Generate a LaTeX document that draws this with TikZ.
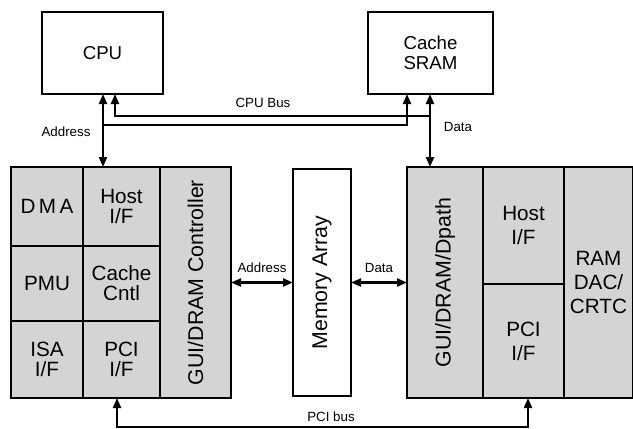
\documentclass[tikz,border=0pt]{standalone}
\usepackage{fontspec}
\setmainfont{Liberation Sans}
\usepackage{xcolor}
\usepackage{tikz}
\usetikzlibrary{arrows.meta}
\definecolor{cellgray}{HTML}{D4D4D4}
\definecolor{ink}{HTML}{000000}
\tikzset{
  box/.style={draw=ink, line width=0.8pt, fill=white, inner sep=0pt, outer sep=0pt,
    align=center, font=\fontsize{14}{15}\selectfont},
  cell/.style 2 args={box, fill=cellgray, minimum width=#1*0.75pt, minimum height=#2*0.75pt,
    font=\fontsize{15.5}{15}\selectfont},
  plain/.style 2 args={box, minimum width=#1*0.75pt, minimum height=#2*0.75pt},
  wide/.style={font=\fontsize{15.5}{18}\selectfont},
  side/.style={font=\fontsize{16}{17}\selectfont},
  bus/.style={draw=ink, line width=1.6pt, line cap=butt, line join=miter},
  tip/.style={-{Triangle[length=7.5pt,width=6pt]}},
  tips/.style={{Triangle[length=7.5pt,width=6pt]}-{Triangle[length=7.5pt,width=6pt]}},
  lab/.style={text=ink, inner sep=1pt, font=\fontsize{10}{11}\selectfont},
}

\begin{document}
\begin{tikzpicture}[x=0.75pt, y=-0.75pt]
  \useasboundingbox (0,0) rectangle (633,429);
  % top chips
  \node[plain={121}{82}] (cpu)   at (102.5,53) {CPU};
  \node[plain={125}{82}] (sram)  at (430.5,53) {Cache\\SRAM};
  % controller block
  \node[cell={72}{79}]  (dma)   at (47,206.5)   {D\,M\,A};
  \node[cell={77}{79}]  (hostl) at (121.5,206.5) {Host\\I/F};
  \node[cell={72}{75}]  (pmu)   at (47,283.5)   {PMU};
  \node[cell={77}{75}]  (cctl)  at (121.5,283.5) {Cache\\Cntl};
  \node[cell={72}{77}]  (isa)   at (47,359.5)   {ISA\\I/F};
  \node[cell={77}{77}]  (pcil)  at (121.5,359.5) {PCI\\I/F};
  \node[cell={71}{231},side] (gctl) at (195.5,282.5) {\rotatebox{90}{GUI/DRAM Controller}};
  % memory
  \node[plain={58}{227},side] (mem) at (322,282.5) {\rotatebox{90}{Memory Array}};
  % datapath block
  \node[cell={76}{231},side] (dpath) at (445,282.5) {\rotatebox{90}{GUI/DRAM/Dpath}};
  \node[cell={81}{117},wide] (hostr) at (523.5,225.5) {Host\\I/F};
  \node[cell={81}{114},wide] (pcir)  at (523.5,341)   {PCI\\I/F};
  \node[cell={69}{231},wide] (dac)   at (598.5,282.5) {RAM\\DAC/\\CRTC};

  % CPU bus
  \coordinate (ax) at (103,125);
  \coordinate (dx) at (430,116);
  \coordinate (cx) at (115,116);
  \coordinate (sx) at (407,125);
  \draw[bus,tips] (cpu.south -| ax) -- (hostl.north -| ax);
  \draw[bus,tip] (ax) -- (sx) -- (sram.south -| sx);
  \draw[bus,tips] (sram.south -| dx) -- (dpath.north -| dx);
  \draw[bus,tip] (dx) -- (cx) -- (cpu.south -| cx);
  \node[lab] at (263,103) {CPU Bus};
  \node[lab] at (66,132) {Address};
  \node[lab] at (458,127) {Data};

  % memory ports
  \draw[bus,tips] (gctl.east) -- (mem.west);
  \draw[bus,tips] (mem.east) -- (dpath.west);
  \node[lab] at (262,268) {Address};
  \node[lab] at (379,268) {Data};

  % PCI bus
  \coordinate (pl) at (117,427);
  \coordinate (pr) at (528,427);
  \draw[bus,tip] (pr) -- (pl) -- (pcil.south -| pl);
  \draw[bus,tip] (pl) -- (pr) -- (pcir.south -| pr);
  \node[lab] at (331,417) {PCI bus};
\end{tikzpicture}
\end{document}
